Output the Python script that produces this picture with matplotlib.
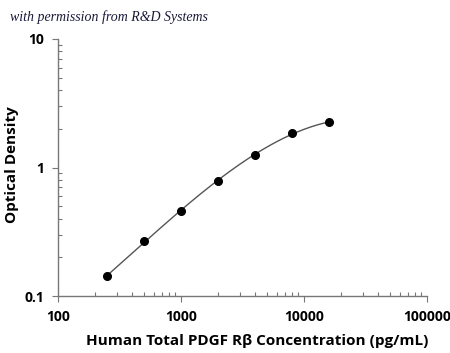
import numpy as np
import matplotlib
matplotlib.use("Agg")
import matplotlib.pyplot as plt
from matplotlib.ticker import LogLocator, NullFormatter

conc = [250, 500, 1000, 2000, 4000, 8000, 16000]
od = [0.142, 0.270, 0.455, 0.792, 1.26, 1.86, 2.24]
xticks = [100, 1000, 10000, 100000]
xticklabels = ["100", "1000", "10000", "100000"]
yticks = [0.1, 1, 10]
yticklabels = ["0.1", "1", "10"]

plt.rcParams['font.family'] = ['Open Sans', 'DejaVu Sans']

fig = plt.figure(figsize=(4.5, 3.53), dpi=100)
ax = fig.add_axes([58/450, 1-296/353, (427-58)/450, (296-39)/353])

# smooth fitted curve through the data (log-log cubic fit)
lx = np.log10(conc)
ly = np.log10(od)
coef = np.polyfit(lx, ly, 3)
xs = np.linspace(lx[0], lx[-1], 200)
ax.plot(10**xs, 10**np.polyval(coef, xs), color="#555555", lw=1.0, zorder=2)
ax.plot(conc, od, 'o', color="black", ms=5.5, zorder=3)

ax.set_xscale('log')
ax.set_yscale('log')
ax.set_xlim(100, 100000)
ax.set_ylim(0.1, 10)
ax.set_xticks(xticks)
ax.set_xticklabels(xticklabels)
ax.set_yticks(yticks)
ax.set_yticklabels(yticklabels)
ax.xaxis.set_minor_locator(LogLocator(base=10, subs=np.arange(2, 10)))
ax.yaxis.set_minor_locator(LogLocator(base=10, subs=np.arange(2, 10)))
ax.xaxis.set_minor_formatter(NullFormatter())
ax.yaxis.set_minor_formatter(NullFormatter())

for s in ['top', 'right']:
    ax.spines[s].set_visible(False)
for s in ['left', 'bottom']:
    ax.spines[s].set_color("#777777")
    ax.spines[s].set_linewidth(1.0)

ax.tick_params(which='major', direction='out', length=4, width=0.8, color="#777777",
               labelsize=10, pad=6)
ax.tick_params(which='minor', direction='in', length=3, width=0.8, color="#777777")
for lab in ax.get_xticklabels() + ax.get_yticklabels():
    lab.set_fontweight('bold')

fig.text(257/450, 1-341/353, "Human Total PDGF Rβ Concentration (pg/mL)", fontsize=11,
         fontweight='bold', ha='center', va='center')
fig.text(12/450, 1-165/353, "Optical Density", fontsize=11, fontweight='bold',
         rotation=90, ha='center', va='center')

fig.text(10/450, 1-17/353, "with permission from R&D Systems", fontsize=10,
         style='italic', family=['Liberation Serif', 'DejaVu Serif'],
         color="#1a1a3a", va='center', ha='left')

fig.savefig("out.png", dpi=100)
